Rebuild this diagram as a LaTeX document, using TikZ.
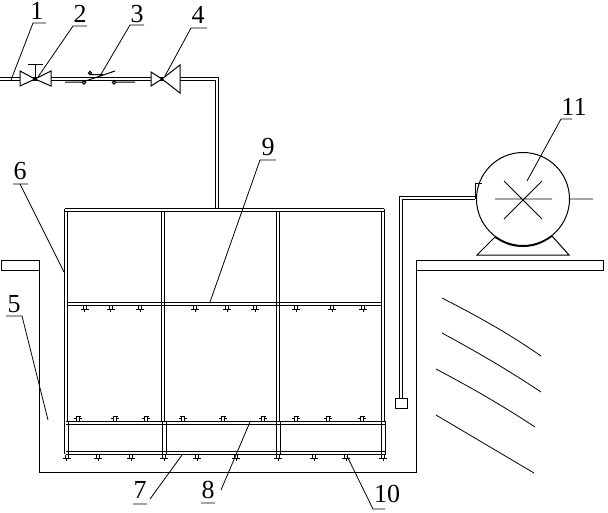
\documentclass[tikz,border=0pt]{standalone}
\usepackage{fontspec}
\setmainfont{Liberation Serif}
\tikzset{
  ln/.style={line width=1pt,line cap=butt,black},
  thick ln/.style={line width=1.6pt,black},
  lead/.style={line width=0.8pt,black},
  num/.style={font=\fontsize{26}{26}\selectfont,inner sep=0pt,anchor=center}
}
\newcommand{\nozdown}[2]{\draw[line width=1pt] (#1-1.5,#2) -- (#1-1.5,#2+4) (#1+1.5,#2) -- (#1+1.5,#2+4) (#1-4,#2+4) -- (#1+4,#2+4) (#1,#2+4) -- (#1,#2+6.5);}
\newcommand{\nozup}[2]{\draw[line width=1pt] (#1-1.5,#2) -- (#1-1.5,#2-5) (#1+1.5,#2) -- (#1+1.5,#2-5) (#1-4,#2-3) -- (#1-1.5,#2-3) (#1+1.5,#2-3) -- (#1+4,#2-3) (#1-2.5,#2-5) -- (#1+2.5,#2-5);}
\begin{document}
\begin{tikzpicture}[x=1pt,y=-1pt]
\useasboundingbox[fill=white] (0,0) rectangle (608,512);
% inlet pipe
\draw[ln] (0,77.5) -- (218.5,77.5) -- (218.5,209);
\draw[ln] (0,80.5) -- (215.5,80.5) -- (215.5,209);
% valve 2
\draw[ln,fill=white] (35,79) -- (20,71) -- (20,86) -- cycle;
\draw[ln,fill=white] (35,79) -- (51,71) -- (51,86) -- cycle;
\draw[ln] (35,79) -- (35,64) (28,64) -- (43,64);
\fill (35,79) circle (1.6);
% valve 4
\draw[ln,fill=white] (162,79) -- (151,72) -- (151,86) -- cycle;
\draw[ln,fill=white] (162,79) -- (180,65) -- (180,93) -- cycle;
\fill (162,79) circle (1.6);
% item 3
\draw[ln] (65,82) -- (84,82) (84,81.5) -- (115,71) (90,74.5) -- (103,74.5) (114,82) -- (135,82);
\draw[ln,fill=white] (90,73) circle (1.6) (84,82.5) circle (1.6) (114,82.5) circle (1.6);
% basin
\draw[ln] (39.5,270) -- (39.5,472.5) -- (416.5,472.5) -- (416.5,270);
\draw[ln] (1.5,260.5) rectangle (39.5,270.5);
\draw[ln] (416.5,260.5) rectangle (603.5,270.5);
% tank frame
\draw[ln] (64.5,208.5) -- (384,208.5) (64.5,211.5) -- (384,211.5);
\draw[ln] (64.5,208.5) -- (64.5,454) (67.5,211.5) -- (67.5,421);
\draw[ln] (161.3,211.5) -- (161.3,421) (164.7,211.5) -- (164.7,421);
\draw[ln] (276.3,211.5) -- (276.3,421) (279.5,211.5) -- (279.5,421);
\draw[ln] (381.3,211.5) -- (381.3,421) (384,208.5) -- (384,421);
\draw[ln] (67.5,302.5) -- (381.3,302.5) (67.5,305.5) -- (381.3,305.5);
% lower frame
\draw[ln] (66,421.5) -- (385.5,421.5) (66,424.5) -- (385.5,424.5);
\draw[ln] (66,451.5) -- (385.5,451.5) (66,454.5) -- (385.5,454.5);
\draw[ln] (385.5,421) -- (385.5,454.5) (381.3,421) -- (381.3,454.5);
\draw[ln] (68.5,421) -- (68.5,454.5);
\draw[ln] (162.7,421) -- (162.7,454.5) (166.7,421) -- (166.7,454.5);
\draw[ln] (276.3,421) -- (276.3,454.5) (280,421) -- (280,454.5);
% nozzles
\foreach \x in {84.5,110.5,140,195,227,255,296,332,363} {\nozdown{\x}{305.5}}
\foreach \x in {78,115,146,182.5,223,263,296,328,362} {\nozup{\x}{421}}
\foreach \x in {66.5,98,131,164,197,236,278,314,346,383} {\nozdown{\x}{454.5}}
% pump pipe and nozzle box
\draw[ln] (475,196.5) -- (399.5,196.5) -- (399.5,398);
\draw[ln] (475,199.5) -- (402.5,199.5) -- (402.5,398);
\draw[ln] (395.7,398) rectangle (407.3,408);
% pump
\node[circle,draw,line width=1pt,minimum size=93pt,inner sep=0pt] (pump) at (523,199) {};
\coordinate (legL) at (495,237);
\coordinate (legR) at (552,236);
\draw[lead] (495,199) -- (552,199) (504,181) -- (542,219) (542,181) -- (504,219) (569,199) -- (593,199);
\draw[ln] (475,199) -- (475,183) -- (482,183);
\draw[ln] (legL) -- (477,255) -- (569,255) -- (legR);
\draw[thick ln] (legL) .. controls (505,243.5) and (513,246.5) .. (523,246) .. controls (533,246.5) and (542,243) .. (legR);
% hatch lines
\draw[lead] (442,298) .. controls (475,315) and (505,331) .. (541,356);
\draw[lead] (442,333) .. controls (475,351) and (505,368) .. (541,392);
\draw[lead] (436,369) .. controls (470,387) and (500,404) .. (535,427);
\draw[lead] (436,415) -- (534,473);
% labels
\node[num] (n1) at (37,11) {1};
\node[num] (n2) at (80,14) {2};
\node[num] (n3) at (137,14) {3};
\node[num] (n4) at (198,15) {4};
\node[num] (n5) at (14,304) {5};
\node[num] (n6) at (20,171) {6};
\node[num] (n7) at (140,490) {7};
\node[num] (n8) at (208,490) {8};
\node[num] (n9) at (268,147) {9};
\node[num] (n10) at (387,494) {10};
\node[num] (n11) at (574,107) {11};
% leaders
\draw[lead] (46,23) -- (33,23) -- (11,80);
\draw[lead] (87,26) -- (73,26) -- (38,77);
\draw[lead] (144,25) -- (130,25) -- (100,76);
\draw[lead] (207,28) -- (191,28) -- (165,76);
\draw[lead] (6,316) -- (22,316) -- (48,420);
\draw[lead] (13,184) -- (28,184) (20,184) -- (64,272);
\draw[lead] (133,504) -- (147,504) (150,499) -- (182,455);
\draw[lead] (201,503) -- (215,503) (221,490) -- (250,422);
\draw[lead] (276,160) -- (260,160) -- (210,302);
\draw[lead] (385,509) -- (373,509) -- (347,456);
\draw[lead] (572,119) -- (561,119) -- (527,181);
\end{tikzpicture}
\end{document}
